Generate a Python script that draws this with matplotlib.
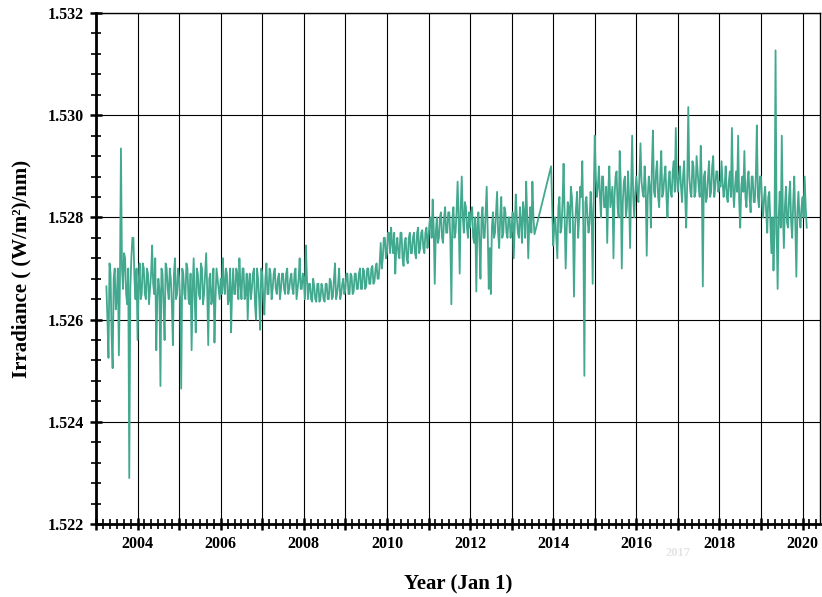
import numpy as np
import matplotlib
matplotlib.use("Agg")
import matplotlib.pyplot as plt
from matplotlib.ticker import MultipleLocator, FuncFormatter

# irradiance, stored as (value - 1.52) in units of 1e-4 W/m2/nm
# first part: 2003.25 .. 2013.55, every 0.05 yr
part_a_start = 2003.25
part_a = [
    # 2003.25 - 2003.95
    66.5, 52.5, 69, 50.5, 70, 64, 53, 93.5, 66, 72, 63, 29, 72, 76, 64,
    # 2004
    56, 71, 65, 70, 64, 69, 66, 74.5, 65, 54, 68, 47, 69, 56, 70, 64, 68, 55, 72, 65,
    # 2005
    68, 46.5, 69, 64, 70, 63, 54, 72, 57.5, 69, 64, 70, 65, 73, 55, 69, 64, 55.5, 70, 66,
    # 2006
    68, 72, 65, 69, 64, 57.5, 70, 65, 69, 72, 64, 70, 65, 60, 69, 66, 70, 60, 68, 58,
    # 2007
    69, 61, 71, 65, 69, 66, 70, 65, 69, 66, 69, 65, 70, 66, 69, 65, 70, 66, 72, 66,
    # 2008
    68, 74.5, 64, 67, 63.5, 66.5, 63.5, 67, 64, 66, 63.5, 67, 64, 67.5, 64.5, 71, 65, 70, 65, 68,
    # 2009
    66, 69, 65, 68.5, 65.5, 69, 66, 70, 66, 69.5, 66.5, 70, 67, 70.5, 67.5, 71, 68, 75, 72, 76,
    # 2010
    73, 77, 78, 73, 69, 76, 72, 77, 70.5, 76, 71, 77, 73, 77, 72, 78, 74, 77.5, 73, 78,
    # 2011
    76, 80, 83.5, 67, 80, 76, 81, 75, 82, 77, 81, 63, 82, 77, 87, 69, 88, 77, 82, 76,
    # 2012
    78, 82, 75, 65.5, 81, 68, 82, 76, 86, 66, 65, 81, 77, 85, 74, 84, 77, 81, 76, 80,
    # 2013.00 - 2013.55
    78, 72, 84.5, 77, 82, 75, 81, 87, 72, 82, 87, 76.7,
]
# readings half way between the ones above (t + 0.025)
part_a_mid = [
    60, 71, 57, 68, 62, 70, 67, 70, 73, 65, 70, 66, 76, 68, 70,
    67, 64, 71, 65, 70, 63, 69, 67, 72, 64, 66, 70, 63, 71, 66, 70, 63, 69, 64, 70,
    64, 70, 65, 71, 64, 69, 66, 64, 70, 65, 71, 63, 69, 66, 68, 63, 70, 64, 68, 64,
    65, 67, 70, 63, 70, 66, 65, 70, 64, 67, 70, 64, 69, 67, 64, 69, 63, 70, 64, 70,
    64, 68, 65, 70, 64, 69, 66, 68, 64, 69, 66, 69, 65, 68, 66, 69, 64, 68, 66, 69,
    64, 68, 67, 64, 68, 64, 67, 63.5, 67, 64, 67, 64, 68, 64, 68, 64, 67, 64, 67, 65,
    69, 65, 69, 65, 69, 66, 69, 66, 70, 66, 70, 67, 70, 67, 70, 68, 71, 70, 76, 72,
    77, 73, 75, 77, 74, 73, 77, 72, 75, 72, 76, 73, 76, 73, 77, 73, 77, 74, 77, 74,
    79, 76, 78, 77, 75, 80, 76, 80, 77, 81, 76, 80, 76, 81, 80, 82, 80, 83, 78, 81,
    81, 76, 80, 78, 75, 80, 76, 81, 77, 74, 78, 76, 81, 77, 80, 76, 82, 77, 80, 76,
    81, 78, 80, 76, 79, 83, 76, 80, 79, 77, 80,
]

# second part after the data gap: 2013.95 .. 2020.10, every 0.05 yr
part_b_start = 2013.95
part_b = [
    90,
    # 2014
    74.5, 80, 72, 84, 78, 90.5, 70, 83, 77, 84, 64.5, 82, 76, 86, 91, 49, 84, 77, 85, 67,
    # 2015
    96, 84, 90, 80, 88, 82, 75, 90, 84, 72, 88, 82, 93, 70, 87, 80, 89, 74, 96, 80,
    # 2016
    88, 83, 94.5, 85, 90, 72.5, 88, 78, 97, 84, 91, 82, 93, 85, 90, 80, 89, 84, 91, 97.5,
    # 2017
    85, 90, 83, 91, 78, 101.6, 85, 91, 84, 92, 86, 94, 66.5, 89, 84, 91, 85, 92, 86, 89,
    # 2018
    87, 91, 84, 90, 83, 89, 97.5, 82, 89, 96, 78, 88, 93, 82, 89, 81, 88, 83, 98, 82,
    # 2019
    88, 80, 86, 77, 85, 73, 69.6, 112.7, 66, 85, 96, 74, 86, 78, 87, 76, 88, 68.4, 85, 78,
    # 2020.00 - 2020.10
    84, 88, 78,
]
part_b_mid = [
    82,
    78, 76, 82, 77, 83, 80, 78, 82, 86, 79, 78, 85, 80, 84, 78, 83, 80, 79, 81, 84,
    88, 86, 84, 88, 82, 86, 85, 82, 86, 84, 89, 80, 87, 83, 88, 82, 84, 86, 84, 85,
    85, 88, 87, 84, 86, 84, 86, 90, 85, 89, 84, 88, 84, 88, 84, 87, 85, 89, 85, 88,
    88, 86, 88, 84, 87, 88, 84, 90, 85, 89, 84, 87, 88, 83, 88, 84, 90, 84, 89, 85,
    86, 87, 86, 84, 87, 84, 86, 86, 85, 83, 86, 85, 84, 87, 84, 88, 83, 88, 84, 88,
    83, 84, 81, 84, 79, 80, 77, 78, 80, 78, 81, 82, 79, 84, 79, 83, 79, 81, 80, 82,
    80, 82,
]


def weave(vals, mids):
    out = []
    for i, v in enumerate(vals):
        out.append(v)
        if i < len(mids):
            out.append(mids[i])
    return out


step = 0.025
series_a = weave(part_a, part_a_mid)
series_b = weave(part_b, part_b_mid)
years = np.concatenate([part_a_start + step * np.arange(len(series_a)),
                        part_b_start + step * np.arange(len(series_b))])
irradiance = 1.52 + np.array(series_a + series_b) * 1e-4

plt.rcParams['font.family'] = ['Liberation Serif', 'DejaVu Serif']
plt.rcParams['font.weight'] = 'bold'

fig = plt.figure(figsize=(8.22, 5.97), dpi=100)
ax = fig.add_axes([0.1168, 0.1223, 0.8808, 0.8559])

ax.plot(years, irradiance, color='#42a98f', lw=1.3, zorder=3)

ax.set_xlim(2003, 2020.42)
ax.set_ylim(1.522, 1.532)

ax.xaxis.set_major_locator(MultipleLocator(1))
ax.xaxis.set_minor_locator(MultipleLocator(1 / 6))
ax.xaxis.set_major_formatter(FuncFormatter(lambda v, p: '%d' % round(v) if round(v) % 2 == 0 else ''))
ax.yaxis.set_major_locator(MultipleLocator(0.002))
ax.yaxis.set_minor_locator(MultipleLocator(0.0004))
ax.yaxis.set_major_formatter(FuncFormatter(lambda v, p: '%.3f' % v))

ax.grid(True, which='major', color='black', lw=0.8, zorder=1)
ax.tick_params(which='major', direction='inout', length=9, width=1.8, labelsize=11.5, pad=4)
ax.tick_params(which='minor', direction='inout', length=7, width=1.2)
for s in ['left', 'bottom']:
    ax.spines[s].set_linewidth(2)
for s in ['right', 'top']:
    ax.spines[s].set_linewidth(1)

ax.set_xlabel('Year (Jan 1)', fontsize=15, fontweight='bold', labelpad=16)
ax.set_ylabel('Irradiance ( (W/m²)/nm)', fontsize=15, fontweight='bold', labelpad=12)

# faint leftover label under the axis
ax.text(2017, 1.52155, '2017', color='#e4e4e4', fontsize=9, ha='center', va='top', clip_on=False)

fig.savefig('out.png', dpi=100)
